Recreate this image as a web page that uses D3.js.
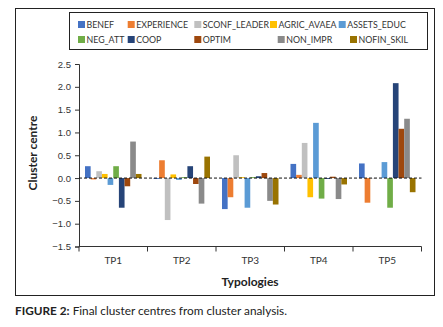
<!DOCTYPE html>
<html>
<head>
<meta charset="utf-8">
<script src="https://cdn.jsdelivr.net/npm/d3@7"></script>
<style>
  body { margin: 0; background: #fff; }
  svg { display: block; font-family: Lato, "Open Sans", sans-serif; }
</style>
</head>
<body>
<div id="chart"></div>
<script>
// typologies on the x axis
const typologies = ['TP1', 'TP2', 'TP3', 'TP4', 'TP5'];
// one entry per variable (series)
const seriesNames = ['BENEF', 'EXPERIENCE', 'SCONF_LEADER', 'AGRIC_AVAEA', 'ASSETS_EDUC',
                     'NEG_ATT', 'COOP', 'OPTIM', 'NON_IMPR', 'NOFIN_SKIL'];
const seriesColors = ['#4472c4', '#ed7d31', '#c0c0c0', '#ffc000', '#5b9bd5',
                      '#70ad47', '#264478', '#9e480e', '#8a8a8a', '#997300'];
// cluster centre values, one row per series, in typology order
const BENEF        = [ 0.26, -0.02, -0.68,  0.31,  0.32];
const EXPERIENCE   = [-0.03,  0.39, -0.42,  0.07, -0.54];
const SCONF_LEADER = [ 0.15, -0.92,  0.50,  0.77, -0.01];
const AGRIC_AVAEA  = [ 0.09,  0.08,  0.02, -0.42,  0.00];
const ASSETS_EDUC  = [-0.15, -0.04, -0.65,  1.21,  0.35];
const NEG_ATT      = [ 0.26,  0.02,  0.02, -0.45, -0.65];
const COOP         = [-0.65,  0.26,  0.04, -0.02,  2.08];
const OPTIM        = [-0.18, -0.13,  0.11,  0.03,  1.08];
const NON_IMPR     = [ 0.80, -0.56, -0.50, -0.46,  1.30];
const NOFIN_SKIL   = [ 0.09,  0.47, -0.58, -0.14, -0.31];
const yTicks = [-1.5, -1.0, -0.5, 0.0, 0.5, 1.0, 1.5, 2.0, 2.5];

const seriesValues = [BENEF, EXPERIENCE, SCONF_LEADER, AGRIC_AVAEA, ASSETS_EDUC,
                      NEG_ATT, COOP, OPTIM, NON_IMPR, NOFIN_SKIL];

const width = 443, height = 327;
const margin = {left: 79, top: 64, right: 21.5, bottom: 80.5};
const w = width - margin.left - margin.right,
      h = height - margin.top - margin.bottom;

const svg = d3.select('#chart').append('svg')
    .attr('width', width)
    .attr('height', height);

// outer frame
svg.append('rect')
    .attr('x', 15.5).attr('y', 8.5)
    .attr('width', 419).attr('height', 287)
    .attr('fill', 'none').attr('stroke', '#222').attr('stroke-width', 1);

const g = svg.append('g')
    .attr('transform', `translate(${margin.left}, ${margin.top})`);

const x0 = d3.scaleBand().domain(typologies).range([0, w]).padding(0);
const x1 = d3.scaleBand().domain(seriesNames)
    .range([6, x0.bandwidth() - 6]).padding(0);
const y = d3.scaleLinear().domain([-1.5, 2.5]).range([h, 0]);

// y axis
const yAxis = d3.axisLeft(y)
    .tickValues(yTicks)
    .tickFormat(d3.format('.1f'))
    .tickSizeOuter(0)
    .tickSize(4);
g.append('g').attr('class', 'y-axis').call(yAxis)
  .call(s => {
      s.select('.domain').attr('stroke', '#333');
      s.selectAll('line').attr('stroke', '#333');
      s.selectAll('text').attr('font-size', 9.5).attr('fill', '#333').attr('dx', -1);
  });

// x axis at the bottom, with ticks between categories
const xAxisG = g.append('g').attr('class', 'x-axis')
    .attr('transform', `translate(0, ${h})`);
xAxisG.append('line')
    .attr('x1', 0).attr('x2', w)
    .attr('stroke', '#333');
xAxisG.selectAll('line.sep')
    .data(d3.range(typologies.length + 1))
    .join('line')
    .attr('class', 'sep')
    .attr('x1', i => i * x0.step()).attr('x2', i => i * x0.step())
    .attr('y1', 0).attr('y2', 5)
    .attr('stroke', '#333');
xAxisG.selectAll('text')
    .data(typologies)
    .join('text')
    .attr('x', d => x0(d) + x0.bandwidth() / 2)
    .attr('y', 17)
    .attr('text-anchor', 'middle')
    .attr('font-size', 10)
    .attr('fill', '#333')
    .text(d => d);

// bars
const groups = g.selectAll('g.typo')
    .data(typologies)
    .join('g')
    .attr('class', 'typo')
    .attr('transform', d => `translate(${x0(d)}, 0)`);

groups.selectAll('rect')
    .data((d, ti) => seriesNames.map((s, si) => ({s, si, v: seriesValues[si][ti]})))
    .join('rect')
    .attr('x', d => x1(d.s))
    .attr('width', x1.bandwidth())
    .attr('y', d => y(Math.max(0, d.v)))
    .attr('height', d => Math.abs(y(d.v) - y(0)))
    .attr('fill', d => seriesColors[d.si]);

// dashed zero line
g.append('line')
    .attr('x1', 0).attr('x2', w)
    .attr('y1', y(0)).attr('y2', y(0))
    .attr('stroke', '#111')
    .attr('stroke-dasharray', '3,2');

// axis titles
svg.append('text')
    .attr('transform', `translate(37, 153) rotate(-90)`)
    .attr('text-anchor', 'middle')
    .attr('font-size', 12)
    .attr('font-weight', 'bold')
    .attr('fill', '#222')
    .text('Cluster centre');

svg.append('text')
    .attr('x', 250).attr('y', 286)
    .attr('text-anchor', 'middle')
    .attr('font-size', 12)
    .attr('font-weight', 'bold')
    .attr('fill', '#222')
    .text('Typologies');

// legend
svg.append('rect')
    .attr('x', 69.5).attr('y', 12.5)
    .attr('width', 358).attr('height', 37)
    .attr('fill', 'none').attr('stroke', '#222');

const legendX = [78, 127.7, 194.3, 270, 338.7, 78, 127.7, 194.3, 277.7, 350];
const legend = svg.selectAll('g.legend-item')
    .data(seriesNames)
    .join('g')
    .attr('class', 'legend-item')
    .attr('transform', (d, i) => `translate(${legendX[i]}, ${i < 5 ? 21 : 36})`);
legend.append('rect')
    .attr('width', 7).attr('height', 7)
    .attr('fill', (d, i) => seriesColors[i]);
legend.append('text')
    .attr('x', 8.5).attr('y', 7)
    .attr('font-size', 8.8)
    .attr('fill', '#333')
    .text(d => d);

// caption
const caption = svg.append('text')
    .attr('x', 15).attr('y', 315)
    .attr('font-size', 11.8)
    .attr('fill', '#222');
caption.append('tspan').attr('font-weight', 'bold').text('FIGURE 2:');
caption.append('tspan').text(' Final cluster centres from cluster analysis.');
</script>
</body>
</html>
